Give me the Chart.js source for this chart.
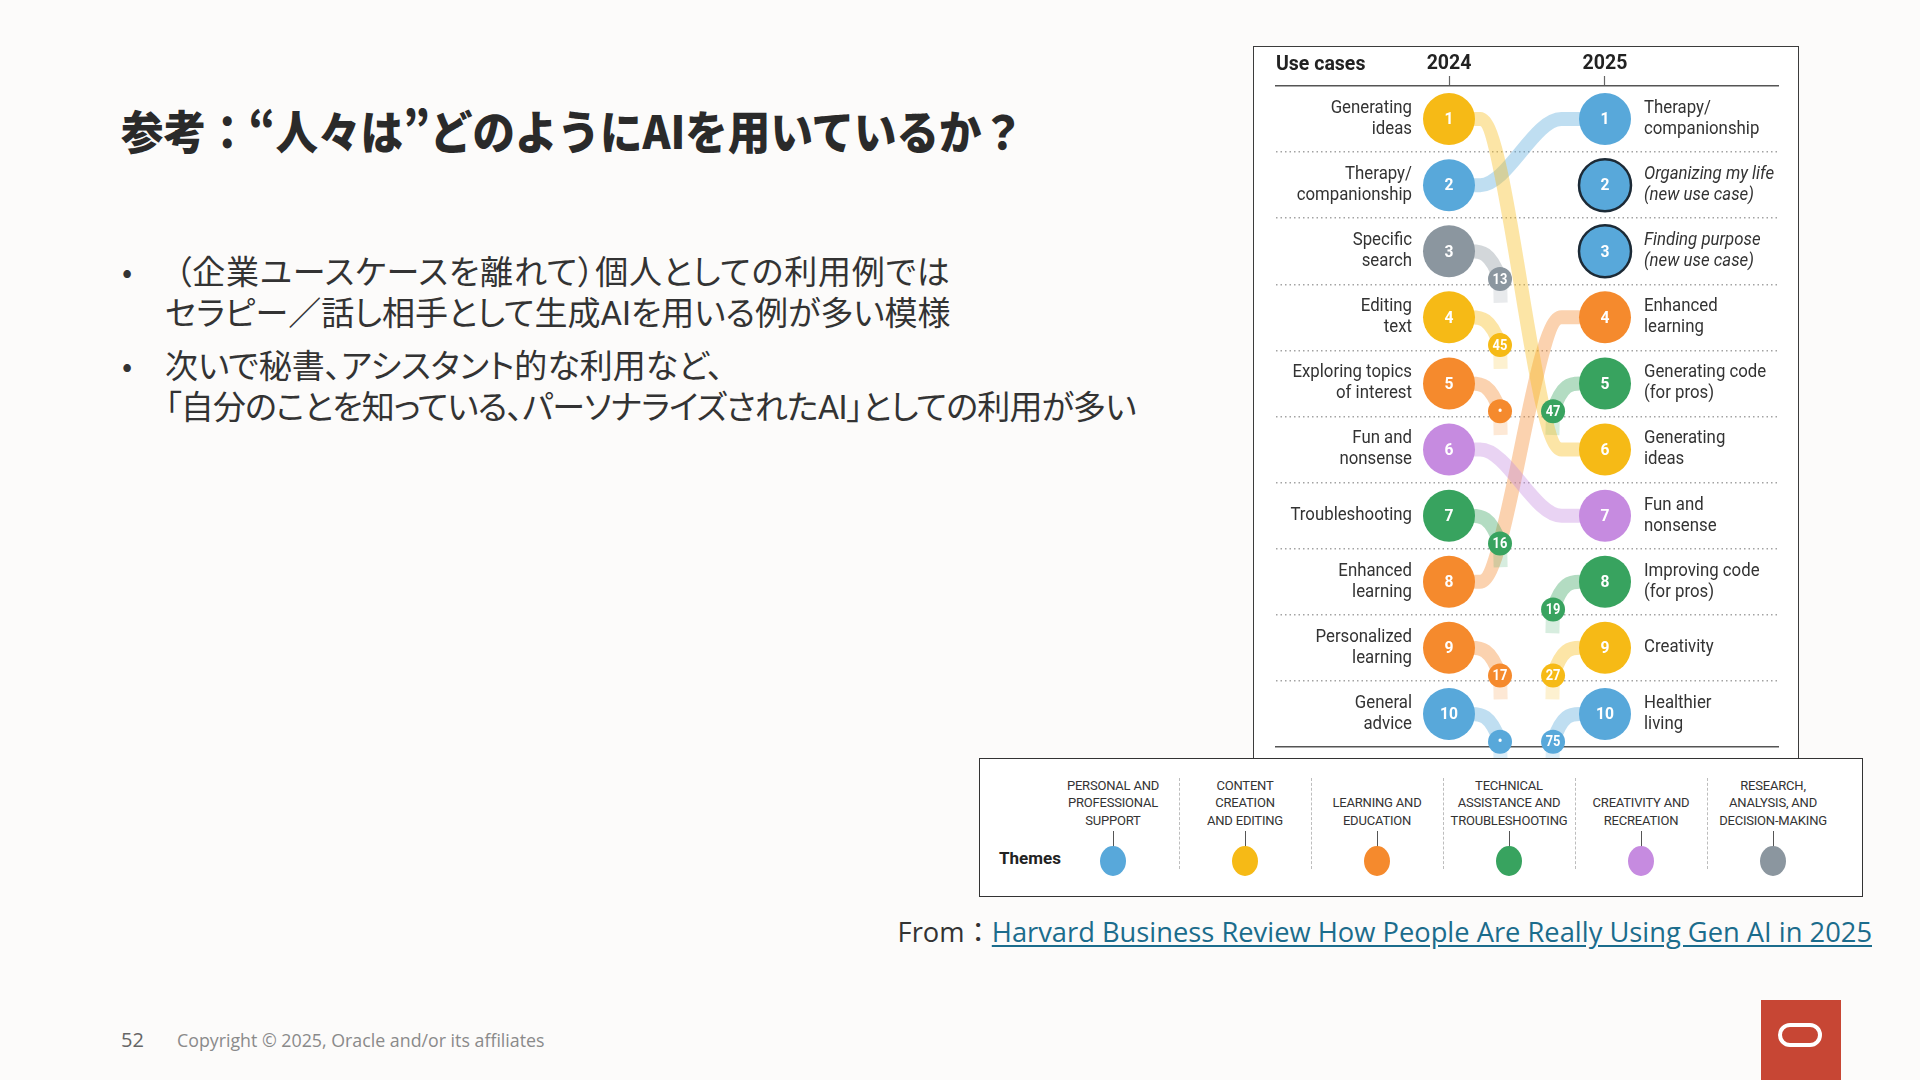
<!DOCTYPE html>
<html lang="ja">
<head>
<meta charset="utf-8">
<script src="https://cdn.jsdelivr.net/npm/chart.js@4.4.1/dist/chart.umd.min.js"></script>
<style>
  html, body { margin:0; padding:0; }
  body { width:1920px; height:1080px; background:#FCFBFA; position:relative; overflow:hidden;
         font-family:'Noto Sans CJK JP', 'Noto Sans', sans-serif; color:#333; }
  #title { position:absolute; left:121px; top:102px; font-size:46px; font-weight:900; color:#2a2a2a;
           line-height:54px; white-space:nowrap; transform:scaleX(0.924); transform-origin:0 50%; }
  .bul { position:absolute; left:122px; font-size:30px; line-height:41px; color:#333; font-family:'Noto Sans CJK JP', sans-serif; }
  .txt { position:absolute; left:165px; font-size:33px; line-height:41px; color:#333; white-space:nowrap;
         font-family:Roboto, 'Noto Sans CJK JP', sans-serif; font-feature-settings:'palt'; }
  #chartBox { position:absolute; left:1253px; top:46px; width:544px; height:712px; border:1px solid #3c3c3c; background:#fff; }
  #chartBox canvas { position:absolute; left:0; top:0; }
  #legend { position:absolute; left:979px; top:758px; width:882px; height:137px; border:1px solid #333; background:#fff;
            font-family:Roboto, 'Noto Sans', sans-serif; }
  #legend .themes { position:absolute; left:19px; top:88px; font-size:17px; font-weight:700; color:#222; line-height:22px; }
  #legend .lab { position:absolute; bottom:67px; width:132px; text-align:center; font-size:13px; line-height:17.5px; color:#333; letter-spacing:-0.2px; }
  #legend .stem { position:absolute; top:72px; width:1px; height:18px; background:#555; }
  #legend .dot { position:absolute; top:87px; width:26px; height:30px; border-radius:50%; }
  #legend .sep { position:absolute; top:19px; height:91px; border-left:1px dashed #bdbdbd; }
  #from { position:absolute; right:48px; top:911px; font-family:'Open Sans', 'Noto Sans CJK JP', sans-serif; font-size:27.3px; line-height:42px; color:#333; white-space:nowrap; }
  #from a { color:#1B6C8C; text-decoration:underline; text-underline-offset:3px; }
  #pageno { position:absolute; left:121px; top:1027px; font-family:'Open Sans', sans-serif; font-size:20px; color:#666; line-height:26px; }
  #copy { position:absolute; left:177px; top:1028px; font-family:'Open Sans', sans-serif; font-size:17.8px; color:#8a8a8a; line-height:24px; }
  #logo { position:absolute; left:1761px; top:1000px; width:80px; height:80px; background:#C74634; }
  #logo div { position:absolute; left:17px; top:23px; width:36px; height:16px; border:4.5px solid #fff; border-radius:13px; }
</style>
</head>
<body>
<div id="title">参考：“人々は”どのようにAIを用いているか？</div>
<div class="bul" style="top:250px">•</div>
<div class="txt" style="top:252px"><span style="padding-left:10px;letter-spacing:0.8px">（企業ユースケースを離れて）個人としての利用例では</span><br>セラピー／話し相手として生成AIを用いる例が多い模様</div>
<div class="bul" style="top:344px">•</div>
<div class="txt" style="top:346px">次いで秘書、アシスタント的な利用など、<br><span style="letter-spacing:-0.8px">「自分のことを知っている、パーソナライズされたAI」としての利用が多い</span></div>

<div id="chartBox"><canvas id="c" width="544" height="712"></canvas></div>
<div id="legend"></div>

<div id="from">From：<a href="#">Harvard Business Review How People Are Really Using Gen AI in 2025</a></div>
<div id="pageno">52</div>
<div id="copy">Copyright © 2025, Oracle and/or its affiliates</div>
<div id="logo"><div></div></div>

<script>
// ---------------- DATA ----------------
const years = ['2024', '2025'];

// 2024 top-10 use cases (rank = index + 1)
const useCases2024 = [
  ['Generating', 'ideas'], ['Therapy/', 'companionship'], ['Specific', 'search'], ['Editing', 'text'],
  ['Exploring topics', 'of interest'], ['Fun and', 'nonsense'], ['Troubleshooting'], ['Enhanced', 'learning'],
  ['Personalized', 'learning'], ['General', 'advice']
];
const themes2024 = [1, 0, 5, 1, 2, 4, 3, 2, 2, 0];
// rank of each 2024 use case in 2025 (null = dropped off the list)
const rankIn2025 = [6, 1, 13, 45, null, 7, 16, 4, 17, null];

// 2025 top-10 use cases
const useCases2025 = [
  ['Therapy/', 'companionship'], ['Organizing my life', '(new use case)'], ['Finding purpose', '(new use case)'],
  ['Enhanced', 'learning'], ['Generating code', '(for pros)'], ['Generating', 'ideas'], ['Fun and', 'nonsense'],
  ['Improving code', '(for pros)'], ['Creativity'], ['Healthier', 'living']
];
const themes2025 = [0, 0, 0, 2, 3, 1, 4, 3, 1, 0];
// rank of each 2025 use case in 2024 ('new' = new use case)
const rankIn2024 = [2, 'new', 'new', 8, 47, 1, 6, 19, 27, 75];

// themes
const themeNames = [
  ['PERSONAL AND', 'PROFESSIONAL', 'SUPPORT'], ['CONTENT', 'CREATION', 'AND EDITING'], ['LEARNING AND', 'EDUCATION'],
  ['TECHNICAL', 'ASSISTANCE AND', 'TROUBLESHOOTING'], ['CREATIVITY AND', 'RECREATION'], ['RESEARCH,', 'ANALYSIS, AND', 'DECISION-MAKING']
];

// ---------------- STYLE ----------------
const themeRGB = [[88,168,218],[246,186,22],[245,138,45],[56,163,95],[198,139,224],[139,150,159]];
const solid = i => `rgb(${themeRGB[i].join(',')})`;
const faded = (i, a = 0.38) => `rgba(${themeRGB[i].join(',')},${a})`;
const N = useCases2024.length;
const X_MIN = -1.109, X_MAX = 2.109;
const DROP_X = 0.327, RISE_X = 0.667, BADGE_DY = 0.42, TAIL = 0.36;
const LABEL_FONT = 'Roboto, "Noto Sans", sans-serif';

// ---------------- DATASETS ----------------
const datasets = [];
const lineBase = { showLine: true, borderWidth: 14, pointRadius: 0, pointHoverRadius: 0,
  cubicInterpolationMode: 'monotone', clip: false, fill: false, order: 3, borderCapStyle: 'butt' };

// connectors between the two top-10 lists, and drop-offs from 2024
const dropPts = [], dropCol = [], dropTxt = [];
useCases2024.forEach((_, i) => {
  const r = i + 1, r2 = rankIn2025[i], t = themes2024[i];
  if (r2 !== null && r2 <= N) {
    datasets.push(Object.assign({}, lineBase, { borderColor: faded(t),
      data: [{x:0, y:r}, {x:0.2, y:r}, {x:0.72, y:r2}, {x:1, y:r2}] }));
  } else {
    const by = r + BADGE_DY;
    datasets.push(Object.assign({}, lineBase, { borderColor: faded(t),
      segment: { borderColor: c => c.p1DataIndex === 3 ? faded(t, 0.2) : undefined },
      data: [{x:0, y:r}, {x:0.14, y:r}, {x:DROP_X, y:by}, {x:DROP_X + 0.004, y:by + TAIL}] }));
    dropPts.push({x: DROP_X, y: by}); dropCol.push(solid(t)); dropTxt.push(r2 === null ? '•' : String(r2));
  }
});
// climbers into 2025 from below the 2024 top-10
const risePts = [], riseCol = [], riseTxt = [];
useCases2025.forEach((_, i) => {
  const r = i + 1, p = rankIn2024[i], t = themes2025[i];
  if (typeof p === 'number' && p > N) {
    const by = r + BADGE_DY;
    datasets.push(Object.assign({}, lineBase, { borderColor: faded(t),
      segment: { borderColor: c => c.p0DataIndex === 0 ? faded(t, 0.2) : undefined },
      data: [{x: RISE_X - 0.004, y: by + TAIL}, {x: RISE_X, y: by}, {x: 0.84, y: r}, {x: 1, y: r}] }));
    risePts.push({x: RISE_X, y: by}); riseCol.push(solid(t)); riseTxt.push(String(p));
  }
});
// badges
datasets.push({ data: dropPts, pointRadius: 12, pointHoverRadius: 12, backgroundColor: dropCol, pointBackgroundColor: dropCol,
  borderWidth: 0, pointBorderWidth: 0, clip: false, order: 2, pointTexts: dropTxt, textSize: 14 });
datasets.push({ data: risePts, pointRadius: 12, pointHoverRadius: 12, backgroundColor: riseCol, pointBackgroundColor: riseCol,
  borderWidth: 0, pointBorderWidth: 0, clip: false, order: 2, pointTexts: riseTxt, textSize: 14 });
// main circles
const c24 = themes2024.map(solid), c25 = themes2025.map(solid);
datasets.push({ data: useCases2024.map((_, i) => ({x: 0, y: i + 1})), pointRadius: 26, pointHoverRadius: 26,
  backgroundColor: c24, pointBackgroundColor: c24, pointBorderWidth: 0, borderWidth: 0, clip: false, order: 1,
  pointTexts: useCases2024.map((_, i) => String(i + 1)), textSize: 17, sideLabels: useCases2024, side: 'left' });
datasets.push({ data: useCases2025.map((_, i) => ({x: 1, y: i + 1})), pointRadius: 26, pointHoverRadius: 26,
  backgroundColor: c25, pointBackgroundColor: c25,
  pointBorderColor: rankIn2024.map(p => p === 'new' ? '#1c2a36' : 'rgba(0,0,0,0)'),
  pointBorderWidth: rankIn2024.map(p => p === 'new' ? 2.5 : 0), clip: false, order: 1,
  pointTexts: useCases2025.map((_, i) => String(i + 1)), textSize: 17, sideLabels: useCases2025, side: 'right',
  italic: rankIn2024.map(p => p === 'new') });

// ---------------- TEXT PLUGIN ----------------
const textPlugin = {
  id: 'texts',
  afterDatasetsDraw(chart) {
    const ctx = chart.ctx;
    chart.data.datasets.forEach((ds, di) => {
      if (!ds.pointTexts) return;
      const meta = chart.getDatasetMeta(di);
      meta.data.forEach((el, j) => {
        ctx.save();
        ctx.fillStyle = '#fff';
        ctx.font = `bold ${ds.textSize}px ${LABEL_FONT}`;
        ctx.textAlign = 'center'; ctx.textBaseline = 'middle';
        ctx.translate(el.x, el.y + 1); ctx.scale(0.92, 1);
        ctx.fillText(ds.pointTexts[j], 0, 0);
        ctx.restore();
        if (ds.sideLabels) {
          const lines = ds.sideLabels[j];
          const it = ds.italic && ds.italic[j];
          ctx.save();
          ctx.fillStyle = '#333';
          ctx.font = `${it ? 'italic ' : ''}17.5px ${LABEL_FONT}`;
          ctx.textBaseline = 'middle';
          ctx.textAlign = ds.side === 'left' ? 'right' : 'left';
          const x = ds.side === 'left' ? el.x - 37 : el.x + 39;
          lines.forEach((ln, k) => {
            const y = el.y + (k - (lines.length - 1) / 2) * 21;
            ctx.save(); ctx.translate(x, y); ctx.scale(0.96, 1); ctx.fillText(ln, 0, 0); ctx.restore();
          });
          ctx.restore();
        }
      });
    });
    // header
    const a = chart.chartArea;
    ctx.save();
    ctx.fillStyle = '#222'; ctx.font = `bold 19.5px ${LABEL_FONT}`;
    ctx.textAlign = 'left'; ctx.textBaseline = 'middle';
    ctx.fillText('Use cases', a.left, a.top - 21);
    ctx.restore();
  }
};

new Chart(document.getElementById('c'), {
  type: 'scatter',
  data: { datasets },
  plugins: [textPlugin],
  options: {
    responsive: false, animation: false, events: [],
    layout: { autoPadding: false, padding: { left: 22, right: 20, top: 0, bottom: 0 } },
    plugins: { legend: { display: false }, tooltip: { enabled: false } },
    scales: {
      x: { type: 'linear', position: 'top', min: X_MIN, max: X_MAX,
        afterBuildTicks: s => { s.ticks = years.map((_, i) => ({ value: i })); },
        afterFit: s => { s.height = 39; },
        ticks: { callback: v => years[v], autoSkip: false, maxRotation: 0, padding: 0,
                 color: '#222', font: { family: LABEL_FONT, size: 19.5, weight: 'bold' } },
        grid: { drawOnChartArea: false, drawTicks: true, tickLength: 10, tickColor: '#666', tickWidth: 1.2 },
        border: { display: true, color: '#555', width: 1.5 } },
      x2: { type: 'linear', position: 'bottom', min: X_MIN, max: X_MAX,
        afterFit: s => { s.height = 12; },
        ticks: { display: false }, grid: { display: false, drawTicks: false },
        border: { display: true, color: '#555', width: 1.5 } },
      y: { type: 'linear', min: 0.5, max: N + 0.5, reverse: true,
        afterBuildTicks: s => { s.ticks = useCases2024.slice(1).map((_, i) => ({ value: i + 1.5 })); },
        afterFit: s => { s.width = 0; },
        ticks: { display: false },
        grid: { drawTicks: false, color: '#a3a3a3', lineWidth: 1.5 },
        border: { display: false, dash: [1.5, 3] } }
    }
  }
});

// ---------------- LEGEND (HTML) ----------------
const lg = document.getElementById('legend');
lg.insertAdjacentHTML('beforeend', '<div class="themes">Themes</div>');
themeNames.forEach((lines, i) => {
  const cx = 133 + 132 * i;
  lg.insertAdjacentHTML('beforeend',
    `<div class="lab" style="left:${cx - 66}px">${lines.join('<br>')}</div>` +
    `<div class="stem" style="left:${cx}px"></div>` +
    `<div class="dot" style="left:${cx - 13}px;background:${solid(i)}"></div>`);
  if (i > 0) lg.insertAdjacentHTML('beforeend', `<div class="sep" style="left:${cx - 66}px"></div>`);
});
</script>
</body>
</html>
